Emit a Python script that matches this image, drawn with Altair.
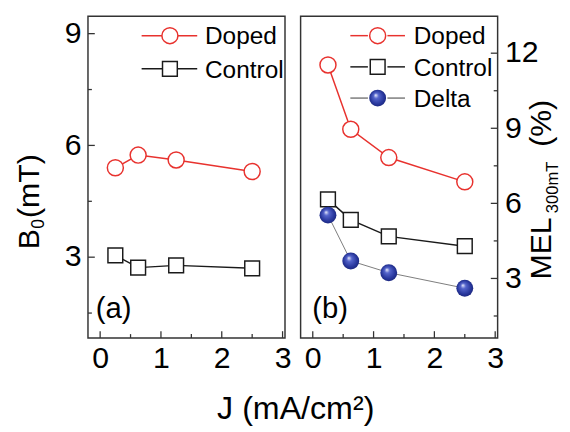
import altair as alt
import pandas as pd

# ---------------- data ----------------
J = [0.25, 0.625, 1.25, 2.5]
b0_doped = [5.40, 5.74, 5.61, 5.30]
b0_control = [3.05, 2.72, 2.78, 2.70]
mel_doped = [11.53, 8.96, 7.83, 6.86]
mel_control = [6.16, 5.34, 4.68, 4.29]
mel_delta = [5.53, 3.70, 3.23, 2.61]

x_major = [0, 1, 2, 3]
x_minor = [0.5, 1.5, 2.5]
b0_major = [3, 6, 9]
b0_minor = [1.5, 4.5, 7.5]
mel_major = [3, 6, 9, 12]
mel_minor = [1.5, 4.5, 7.5, 10.5]

labels_left = ["Doped", "Control"]
labels_right = ["Doped", "Control", "Delta"]
panel_labels = ["(a)", "(b)"]
x_title = "J (mA/cm\u00b2)"

# ---------------- style ----------------
W, H = 202, 330
FONT = "Liberation Sans"
RED = "#e8322e"
BLACK = "#1a1a1a"
GRAY = "#7a7a7a"
FRAME = "#333333"
TICKFS = 31
SPHERE = {
    "gradient": "radial",
    "x1": 0.38, "y1": 0.32, "r1": 0.0,
    "x2": 0.5, "y2": 0.5, "r2": 0.55,
    "stops": [
        {"offset": 0.0, "color": "#f2f4ff"},
        {"offset": 0.28, "color": "#5565cc"},
        {"offset": 0.75, "color": "#26359a"},
        {"offset": 1.0, "color": "#1a2577"},
    ],
}

xscale = alt.Scale(domain=[-0.2, 3.04], nice=False, zero=False)
yl_scale = alt.Scale(domain=[0.83, 9.47], nice=False, zero=False)
yr_scale = alt.Scale(domain=[0.62, 13.48], nice=False, zero=False)


def x_axis():
    return alt.Axis(values=x_major, ticks=False, domain=False, grid=False,
                    labelFontSize=TICKFS, labelFont=FONT, labelColor="black",
                    labelPadding=6, title=None, format="d")


def y_axis(vals, orient):
    return alt.Axis(values=vals, ticks=False, domain=False, grid=False,
                    labelFontSize=TICKFS, labelFont=FONT, labelColor="black",
                    labelPadding=7, title=None, format="d", orient=orient)


def series_df(y):
    return pd.DataFrame({"J": J, "v": y})


def ticks_layers(yscale, ymaj, ymin, yorient):
    xa = x_axis()
    ya = y_axis(ymaj, yorient)
    layers = []
    for vals, ln in ((x_major, 7), (x_minor, 4)):
        layers.append(
            alt.Chart(pd.DataFrame({"t": vals})).mark_rule(color=FRAME, strokeWidth=1.3).encode(
                x=alt.X("t:Q", scale=xscale, axis=xa),
                y=alt.value(H), y2=alt.value(H - ln)))
    for vals, ln in ((ymaj, 7), (ymin, 4)):
        if yorient == "left":
            x0, x1 = 0, ln
        else:
            x0, x1 = W, W - ln
        layers.append(
            alt.Chart(pd.DataFrame({"t": vals})).mark_rule(color=FRAME, strokeWidth=1.3).encode(
                y=alt.Y("t:Q", scale=yscale, axis=ya),
                x=alt.value(x0), x2=alt.value(x1)))
    return layers


def line_layer(y, yscale, color, width=1.5):
    return alt.Chart(series_df(y)).mark_line(color=color, strokeWidth=width).encode(
        x=alt.X("J:Q", scale=xscale), y=alt.Y("v:Q", scale=yscale))


def marker_layer(y, yscale, shape, color, size):
    return alt.Chart(series_df(y)).mark_point(
        shape=shape, size=size, filled=True, fill="white", stroke=color,
        strokeWidth=1.5, opacity=1).encode(
        x=alt.X("J:Q", scale=xscale), y=alt.Y("v:Q", scale=yscale))


def sphere_layer(y, yscale, size):
    return alt.Chart(series_df(y)).mark_point(
        shape="circle", size=size, filled=True, fill=SPHERE, strokeWidth=0,
        opacity=1).encode(
        x=alt.X("J:Q", scale=xscale), y=alt.Y("v:Q", scale=yscale))


def text_layer(label, x, y, size, align="left", baseline="middle", angle=0):
    return alt.Chart(pd.DataFrame({"s": [label]})).mark_text(
        align=align, baseline=baseline, fontSize=size, font=FONT,
        color="black", angle=angle).encode(
        x=alt.value(x), y=alt.value(y), text="s:N")


def legend_rule(x0, x1, y, color, width=1.5):
    return alt.Chart(pd.DataFrame({"a": [0]})).mark_rule(color=color, strokeWidth=width).encode(
        x=alt.value(x0), x2=alt.value(x1), y=alt.value(y))


def legend_marker(x, y, shape, color, size, sphere=False):
    if sphere:
        m = alt.Chart(pd.DataFrame({"a": [0]})).mark_point(
            shape="circle", size=size, filled=True, fill=SPHERE, strokeWidth=0, opacity=1)
    else:
        m = alt.Chart(pd.DataFrame({"a": [0]})).mark_point(
            shape=shape, size=size, filled=True, fill="white", stroke=color,
            strokeWidth=1.5, opacity=1)
    return m.encode(x=alt.value(x), y=alt.value(y))


# ---------------- left panel ----------------
left_layers = ticks_layers(yl_scale, b0_major, b0_minor, "left")
left_layers += [
    line_layer(b0_doped, yl_scale, RED),
    marker_layer(b0_doped, yl_scale, "circle", RED, 270),
    line_layer(b0_control, yl_scale, BLACK),
    marker_layer(b0_control, yl_scale, "square", BLACK, 230),
    # legend
    legend_rule(55, 112, 20, RED),
    legend_marker(84, 20, "circle", RED, 270),
    text_layer(labels_left[0], 120, 21, 25),
    legend_rule(55, 112, 54, BLACK),
    legend_marker(84, 54, "square", BLACK, 230),
    text_layer(labels_left[1], 120, 55, 25),
    # panel label
    text_layer(panel_labels[0], 8, 300, 30),
    # y title B0(mT)
    text_layer("B", -50, 239, 31, baseline="alphabetic", angle=270),
    text_layer("0", -45, 218, 18, baseline="alphabetic", angle=270),
    text_layer("(mT)", -50, 207, 31, baseline="alphabetic", angle=270),
    # x title (shared)
    text_layer(x_title, 213, 413, 33, align="center", baseline="alphabetic"),
]
left = alt.layer(*left_layers).properties(width=W, height=H)

# ---------------- right panel ----------------
right_layers = ticks_layers(yr_scale, mel_major, mel_minor, "right")
right_layers += [
    line_layer(mel_doped, yr_scale, RED),
    marker_layer(mel_doped, yr_scale, "circle", RED, 270),
    line_layer(mel_control, yr_scale, BLACK),
    marker_layer(mel_control, yr_scale, "square", BLACK, 230),
    line_layer(mel_delta, yr_scale, GRAY, 1.0),
    sphere_layer(mel_delta, yr_scale, 300),
    # legend
    legend_rule(51, 69, 20, RED), legend_rule(89, 107, 20, RED),
    legend_marker(79, 20, "circle", RED, 270),
    text_layer(labels_right[0], 116, 21, 25),
    legend_rule(51, 69, 52, BLACK), legend_rule(89, 107, 52, BLACK),
    legend_marker(79, 52, "square", BLACK, 230),
    text_layer(labels_right[1], 116, 53, 25),
    legend_rule(51, 69, 84, GRAY), legend_rule(89, 107, 84, GRAY),
    legend_marker(79, 84, "circle", GRAY, 300, sphere=True),
    text_layer(labels_right[2], 116, 85, 25),
    # panel label
    text_layer(panel_labels[1], 12, 300, 30),
    # y title MEL300mT (%)
    text_layer("MEL", 257, 270, 31, baseline="alphabetic", angle=270),
    text_layer("300mT", 264, 202, 17, baseline="alphabetic", angle=270),
    text_layer("(%)", 257, 134, 31, baseline="alphabetic", angle=270),
]
right = alt.layer(*right_layers).properties(width=W, height=H)

chart = alt.hconcat(left, right, spacing=16, bounds="flush").resolve_scale(
    x="independent", y="independent"
).properties(
    padding={"left": 6, "top": 2, "right": 0, "bottom": 0}
).configure_view(stroke=FRAME, strokeWidth=1.5)

chart.save("out.html", embed_options={"renderer": "svg", "actions": False})
